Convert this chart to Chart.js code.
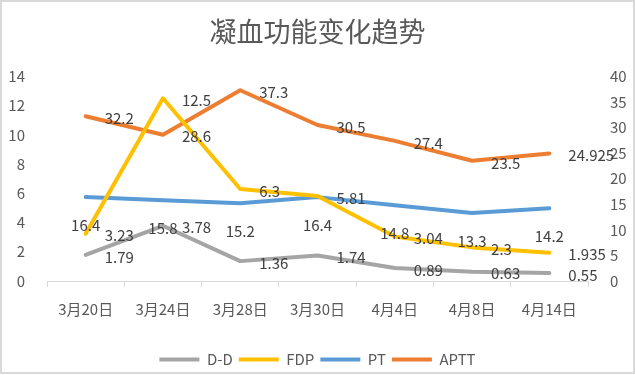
<!DOCTYPE html>
<html lang="zh">
<head>
    <meta charset="UTF-8">
    <title>凝血功能变化趋势</title>
    <style>
        body {
            margin: 0;
            background: #fff;
        }
        .container {
            width: 635px;
            height: 374px;
            box-sizing: border-box;
            border: 2px solid #d9d9d9;
            position: relative;
        }
        #chart {
            position: absolute;
            left: -2px;
            top: -2px;
        }
    </style>
</head>
<body>
    <div class="container">
        <canvas id="chart" width="635" height="375"></canvas>
    </div>

    <script src="https://cdn.jsdelivr.net/npm/chart.js"></script>
    <script>
        const dates = ['3月20日', '3月24日', '3月28日', '3月30日', '4月4日', '4月8日', '4月14日'];
        const ddValues = [1.79, 3.78, 1.36, 1.74, 0.89, 0.63, 0.55];
        const fdpValues = [3.23, 12.5, 6.3, 5.81, 3.04, 2.3, 1.935];
        const ptValues = [16.4, 15.8, 15.2, 16.4, 14.8, 13.3, 14.2];
        const apttValues = [32.2, 28.6, 37.3, 30.5, 27.4, 23.5, 24.925];

        const fontFamily = '"Noto Sans CJK SC", "Noto Sans", sans-serif';

        // Excel style labels: most to the right of the point, PT below it
        const pointLabels = {
            id: 'pointLabels',
            afterDatasetsDraw(chart) {
                const ctx = chart.ctx;
                ctx.save();
                ctx.font = '15px ' + fontFamily;
                ctx.fillStyle = '#404040';
                ctx.textBaseline = 'middle';
                chart.data.datasets.forEach((ds, i) => {
                    const meta = chart.getDatasetMeta(i);
                    meta.data.forEach((pt, j) => {
                        const text = String(ds.data[j]);
                        if (ds.label === 'PT') {
                            ctx.textAlign = 'center';
                            ctx.fillText(text, pt.x, pt.y + 28);
                        } else {
                            ctx.textAlign = 'left';
                            ctx.fillText(text, pt.x + 19, pt.y + 2);
                        }
                    });
                });
                ctx.restore();
            }
        };

        function lineSet(label, data, color, axis) {
            return {
                label: label,
                data: data,
                borderColor: color,
                backgroundColor: color,
                borderWidth: 4,
                borderCapStyle: 'round',
                borderJoinStyle: 'round',
                pointRadius: 0,
                tension: 0,
                yAxisID: axis
            };
        }

        new Chart(document.getElementById('chart'), {
            type: 'line',
            data: {
                labels: dates,
                datasets: [
                    lineSet('D-D', ddValues, '#A5A5A5', 'y'),
                    lineSet('FDP', fdpValues, '#FFC000', 'y'),
                    lineSet('PT', ptValues, '#5B9BD5', 'y1'),
                    lineSet('APTT', apttValues, '#ED7D31', 'y1')
                ]
            },
            plugins: [pointLabels],
            options: {
                responsive: false,
                animation: false,
                layout: { padding: { top: 0, bottom: -2 } },
                plugins: {
                    title: {
                        display: true,
                        text: '凝血功能变化趋势',
                        color: '#595959',
                        font: { family: fontFamily, size: 27, weight: 'normal' },
                        padding: { top: 16, bottom: 28 }
                    },
                    legend: {
                        position: 'bottom',
                        labels: {
                            usePointStyle: true,
                            pointStyle: 'line',
                            pointStyleWidth: 40,
                            color: '#595959',
                            font: { family: fontFamily, size: 15 },
                            padding: 6
                        }
                    },
                    tooltip: { enabled: false }
                },
                scales: {
                    x: {
                        offset: true,
                        grid: {
                            offset: true,
                            drawOnChartArea: false,
                            drawTicks: true,
                            tickLength: 6,
                            color: '#d9d9d9'
                        },
                        border: { display: true, color: '#d9d9d9', width: 1 },
                        ticks: {
                            color: '#595959',
                            font: { family: fontFamily, size: 15 },
                            padding: 13,
                            maxRotation: 0
                        },
                        afterFit(scale) { scale.height = scale.height + 15; }
                    },
                    y: {
                        position: 'left',
                        min: 0,
                        max: 14,
                        grid: { display: false },
                        border: { display: false },
                        ticks: {
                            stepSize: 2,
                            color: '#595959',
                            font: { family: fontFamily, size: 15 },
                            padding: 14
                        },
                        afterFit(scale) { scale.width = 47; }
                    },
                    y1: {
                        position: 'right',
                        min: 0,
                        max: 40,
                        grid: { display: false },
                        border: { display: false },
                        ticks: {
                            stepSize: 5,
                            color: '#595959',
                            font: { family: fontFamily, size: 15 },
                            padding: 14
                        },
                        afterFit(scale) { scale.width = 47; }
                    }
                }
            }
        });
    </script>
</body>
</html>
